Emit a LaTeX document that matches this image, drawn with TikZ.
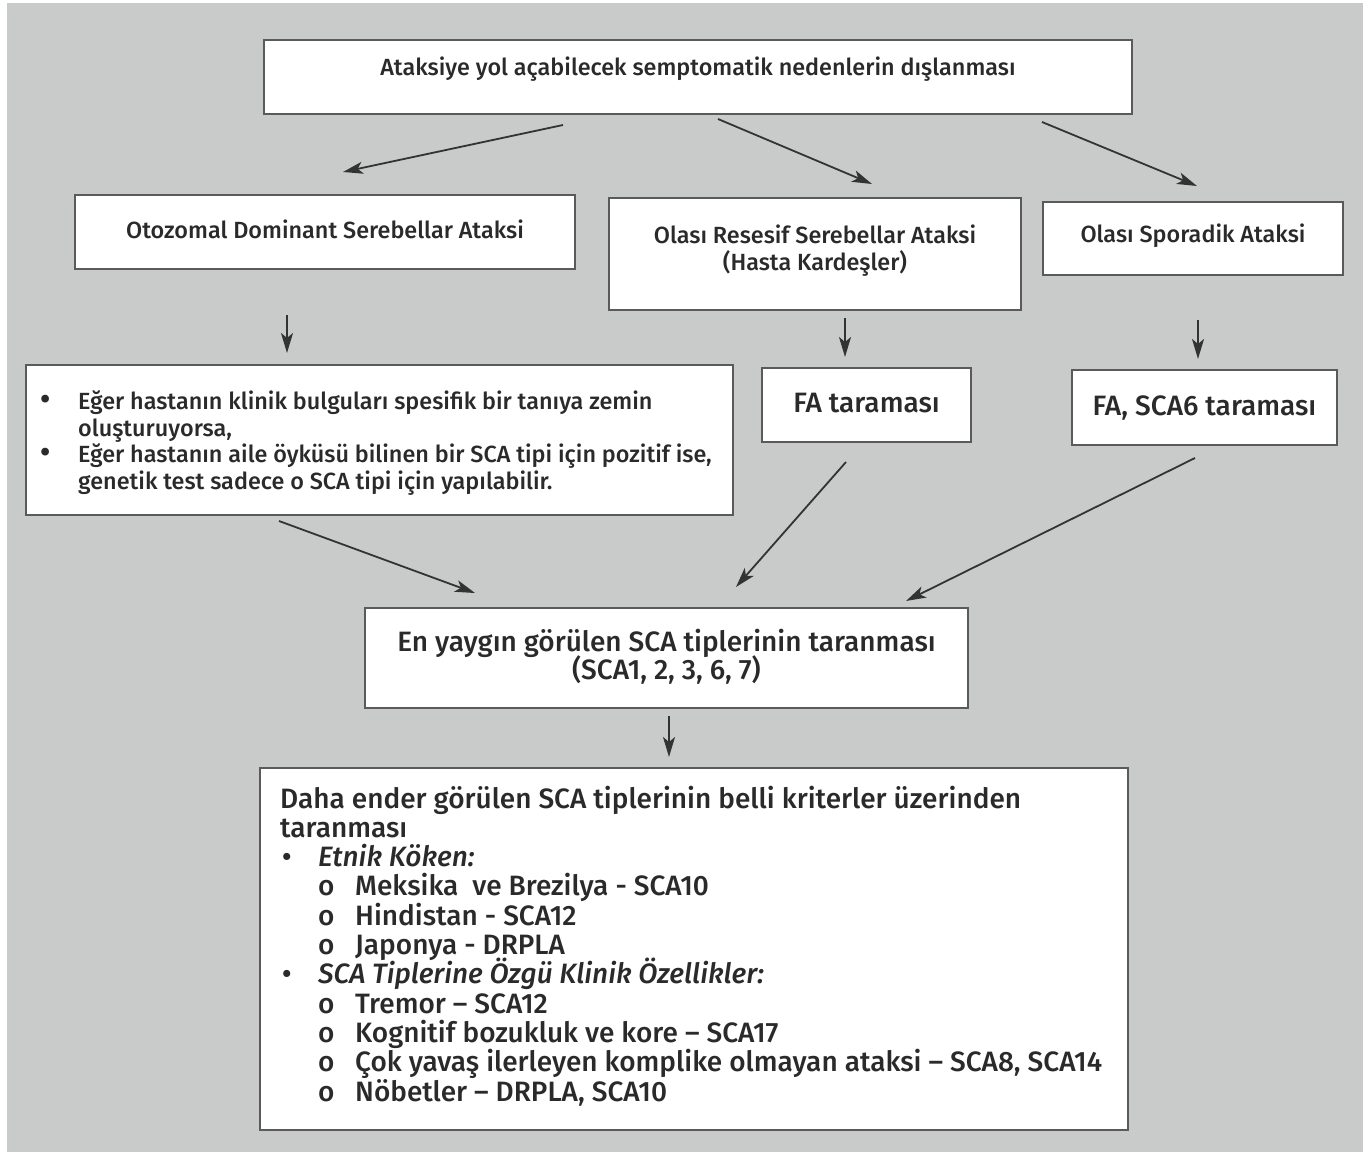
\documentclass[tikz,border=0pt]{standalone}
\usepackage{fontspec}
\setmainfont{Fira Sans Medium}[ItalicFont={Fira Sans Medium Italic}]
\usetikzlibrary{arrows.meta}
\definecolor{bg}{HTML}{C9CBCA}
\definecolor{boxline}{HTML}{5A5A5A}
\definecolor{txt}{HTML}{2A2A2A}
\definecolor{arrc}{HTML}{333333}
\newcommand{\blt}{\raisebox{0.5pt}{\scalebox{1.3}{\textbullet}}}
\newcommand{\ctwo}[2]{\vtop{\lineskiplimit=-100pt\halign{\hfil##\hfil\cr#1\cr#2\cr}}}
\newcommand{\plainline}[1]{\hbox{#1}}
\newcommand{\bulline}[2]{\hbox{\hbox to #1{\blt\hfil}#2}}
\newcommand{\bigbulline}[1]{\hbox{\hbox to 38pt{\hspace{2pt}\textbullet\hfil}#1}}
\newcommand{\contline}[2]{\hbox{\hbox to #1{\hfil}#2}}
\newcommand{\subline}[1]{\hbox{\hbox to 38pt{\hfil}\hbox to 37pt{o\hfil}#1}}
\begin{document}
\begin{tikzpicture}[x=1pt,y=-1pt,
  box/.style={draw=boxline, line width=1.2pt, fill=white, inner sep=0pt, text=txt},
  arr/.style={-{Stealth[length=20pt,width=12pt,inset=5pt]}, line width=1.8pt, draw=arrc},
  small/.style={font=\fontsize{23.4}{27}\selectfont},
  large/.style={font=\fontsize{28}{28}\selectfont},
  lbl/.style={inner sep=0pt, text=txt}]
\useasboundingbox (0,0) rectangle (1371,1156);
\fill[white] (0,0) rectangle (1371,1156);
\fill[bg] (7,3) rectangle (1363,1152);
% boxes
\node[box, small, minimum width=868pt, minimum height=74pt, text height=20pt, text depth=22pt] (b1) at (698,77) {Ataksiye yol açabilecek semptomatik nedenlerin dışlanması};
\node[box, small, minimum width=500pt, minimum height=74pt, text height=20pt, text depth=8pt] (b2) at (325,232) {Otozomal Dominant Serebellar Ataksi};
\node[box, small, minimum width=412pt, minimum height=112pt, text height=20pt, text depth=41pt] (b3) at (815,254) {\ctwo{Olası Resesif Serebellar Ataksi}{(Hasta Kardeşler)}};
\node[box, small, minimum width=300pt, minimum height=73pt, text height=20pt, text depth=11.6pt] (b4) at (1193,238.5) {Olası Sporadik Ataksi};
\node[box, minimum width=707pt, minimum height=150pt] (b5) at (379.5,440) {};
\node[box, large, minimum width=209pt, minimum height=74pt, text height=24pt, text depth=8.6pt] (b6) at (866.5,405) {FA taraması};
\node[box, large, minimum width=265pt, minimum height=75pt, text height=24pt, text depth=9pt] (b7) at (1204.5,407.5) {FA, SCA6 taraması};
\node[box, large, minimum width=603pt, minimum height=100pt, text height=24pt, text depth=37pt] (b8) at (666.5,658) {\ctwo{En yaygın görülen SCA tiplerinin taranması}{(SCA1, 2, 3, 6, 7)}};
\node[box, minimum width=868pt, minimum height=362pt] (b9) at (694,949) {};
% texts of list boxes
\node[lbl, font=\fontsize{23.4}{26.5}\selectfont, anchor=base west] (t5) at (40,409.5) {%
\vtop{\lineskiplimit=-100pt
\bulline{38pt}{Eğer hastanın klinik bulguları spesifik bir tanıya zemin}
\contline{38pt}{oluşturuyorsa,}
\bulline{38pt}{Eğer hastanın aile öyküsü bilinen bir SCA tipi için pozitif ise,}
\contline{38pt}{genetik test sadece o SCA tipi için yapılabilir.}}};
\node[lbl, font=\fontsize{28}{29.3}\selectfont, anchor=base west] (t9) at (280,808) {%
\vtop{\lineskiplimit=-100pt
\plainline{Daha ender görülen SCA tiplerinin belli kriterler üzerinden}
\plainline{taranması}
\bigbulline{\itshape Etnik Köken:}
\subline{Meksika\ \ ve Brezilya - SCA10}
\subline{Hindistan - SCA12}
\subline{Japonya - DRPLA}
\bigbulline{\itshape SCA Tiplerine Özgü Klinik Özellikler:}
\subline{Tremor – SCA12}
\subline{Kognitif bozukluk ve kore – SCA17}
\subline{Çok yavaş ilerleyen komplike olmayan ataksi – SCA8, SCA14}
\subline{Nöbetler – DRPLA, SCA10}}};
% arrow end points
\coordinate (a1s) at (563,125); \coordinate (a1e) at (343,172);
\coordinate (a2s) at (718,119); \coordinate (a2e) at (872,184);
\coordinate (a3s) at (1042,122); \coordinate (a3e) at (1197,186);
\coordinate (d1s) at (287,315); \coordinate (d1e) at (287,353);
\coordinate (d2s) at (845,318); \coordinate (d2e) at (845,357);
\coordinate (d3s) at (1198,320); \coordinate (d3e) at (1198,359);
\coordinate (c1s) at (279,521); \coordinate (c1e) at (475,593);
\coordinate (c2s) at (846,462); \coordinate (c2e) at (736,587);
\coordinate (c3s) at (1195,458); \coordinate (c3e) at (906,601);
\coordinate (d4s) at (669,716); \coordinate (d4e) at (669,757);
\draw[arr] (a1s) -- (a1e);
\draw[arr] (a2s) -- (a2e);
\draw[arr] (a3s) -- (a3e);
\draw[arr] (d1s) -- (d1e);
\draw[arr] (d2s) -- (d2e);
\draw[arr] (d3s) -- (d3e);
\draw[arr] (c1s) -- (c1e);
\draw[arr] (c2s) -- (c2e);
\draw[arr] (c3s) -- (c3e);
\draw[arr] (d4s) -- (d4e);
\end{tikzpicture}
\end{document}
